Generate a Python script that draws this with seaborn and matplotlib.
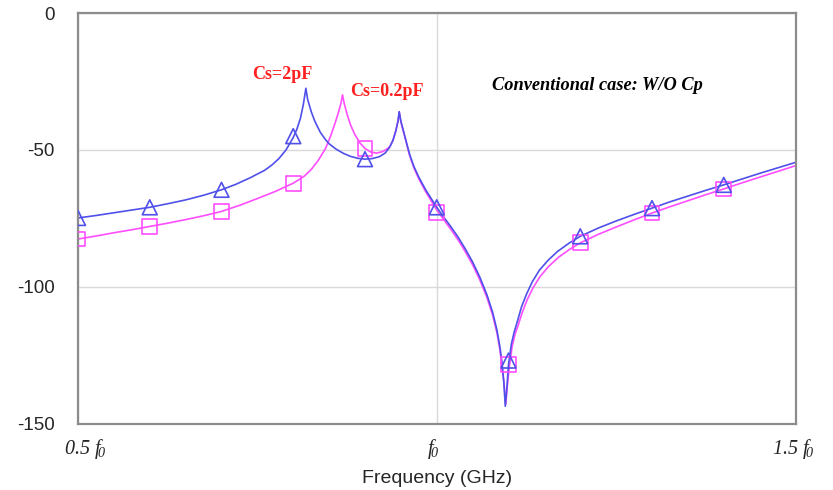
import matplotlib
matplotlib.use("Agg")
import matplotlib.pyplot as plt
import matplotlib.transforms as mtransforms
import seaborn as sns
import pandas as pd

# ---------------- data (frequency in units of f0, response in dB) ----------------
f_blue = [0.50, 0.525, 0.55, 0.575, 0.60, 0.625, 0.65, 0.675, 0.70, 0.72, 0.74, 0.76,
          0.77, 0.78, 0.79, 0.80, 0.805, 0.81, 0.814, 0.8176,
          0.82, 0.825, 0.83, 0.8375, 0.845, 0.85, 0.86, 0.87, 0.88, 0.89, 0.90, 0.91,
          0.92, 0.928, 0.934, 0.939, 0.943, 0.946, 0.9477,
          0.95, 0.953, 0.957, 0.962, 0.968, 0.975, 0.985, 1.00, 1.01, 1.02, 1.03, 1.04,
          1.05, 1.06, 1.07, 1.078, 1.084, 1.088, 1.091, 1.0935, 1.0955,
          1.098, 1.10, 1.104, 1.108, 1.112, 1.118, 1.125, 1.133, 1.143, 1.155, 1.168,
          1.185, 1.20, 1.225, 1.25, 1.275, 1.30, 1.325, 1.35, 1.375, 1.40, 1.425, 1.45,
          1.475, 1.50]
db_blue = [-74.9, -74.0, -73.0, -72.0, -71.0, -69.7, -68.3, -66.6, -64.6, -62.6, -60.2, -57.5,
           -55.6, -53.2, -50.0, -45.5, -42.5, -38.5, -33.5, -27.5,
           -31.5, -36.0, -39.5, -43.5, -46.3, -47.8, -49.8, -51.3, -52.4, -53.1, -53.4, -53.2,
           -52.5, -51.2, -49.2, -46.5, -43.0, -39.5, -36.0,
           -39.5, -42.5, -46.5, -51.5, -56.0, -60.0, -64.8, -71.0, -74.7, -78.2, -82.0, -86.3,
           -91.0, -96.5, -103.0, -109.5, -116.0, -122.0, -128.0, -135.0, -143.7,
           -136.0, -128.5, -121.0, -116.5, -113.0, -107.5, -102.8, -98.3, -94.0, -90.4, -87.2,
           -84.0, -81.6, -78.6, -76.0, -73.6, -71.3, -69.0, -66.9, -64.8, -62.8, -60.7, -58.6,
           -56.6, -54.6]

f_mag = [0.50, 0.525, 0.55, 0.575, 0.60, 0.625, 0.65, 0.675, 0.70, 0.725, 0.75, 0.775,
         0.80, 0.815, 0.825, 0.835, 0.845, 0.852, 0.858, 0.863, 0.8665, 0.8686,
         0.871, 0.875, 0.88, 0.886, 0.893, 0.90, 0.908, 0.916, 0.924, 0.93, 0.935, 0.939,
         0.943, 0.946, 0.9477, 0.95, 0.953, 0.957, 0.962, 0.968, 0.975, 0.985, 1.00,
         1.01, 1.02, 1.03, 1.04, 1.05, 1.06, 1.07, 1.078, 1.084, 1.088, 1.091, 1.094,
         1.0962, 1.0985, 1.101, 1.105, 1.109, 1.113, 1.119, 1.126, 1.134, 1.144, 1.156,
         1.17, 1.185, 1.20, 1.225, 1.25, 1.275, 1.30, 1.325, 1.35, 1.375, 1.40, 1.425,
         1.45, 1.475, 1.50]
db_mag = [-82.6, -81.5, -80.3, -79.2, -78.0, -76.8, -75.5, -74.1, -72.5, -70.3, -67.8, -65.2,
          -62.2, -59.7, -57.2, -53.8, -49.5, -45.0, -40.5, -36.3, -33.0, -29.9,
          -33.0, -37.0, -41.0, -44.5, -47.5, -49.5, -50.8, -51.2, -50.7, -49.8, -48.7, -46.5,
          -43.0, -39.5, -36.3, -39.8, -42.8, -46.8, -51.9, -56.5, -60.6, -65.5, -72.0,
          -75.6, -79.2, -83.0, -87.3, -92.0, -97.5, -104.0, -110.5, -117.0, -123.0, -129.0, -136.0,
          -143.0, -136.0, -129.5, -122.0, -117.5, -114.5, -109.5, -104.8, -100.5, -96.3, -92.6,
          -89.2, -86.4, -84.0, -80.9, -78.2, -75.6, -73.1, -70.8, -68.6, -66.4, -64.3, -62.1,
          -60.0, -57.9, -55.8]

f_mark = [0.5, 0.6, 0.7, 0.8, 0.9, 1.0, 1.1, 1.2, 1.3, 1.4]
db_mark_blue = [-74.9, -71.0, -64.6, -45.0, -53.4, -71.0, -127.0, -81.6, -71.3, -62.8]
db_mark_mag = [-82.6, -78.0, -72.5, -62.2, -49.6, -73.0, -128.5, -84.0, -73.1, -64.3]

series_names = ["Cs=2pF", "Cs=0.2pF"]
x_ticks = [0.5, 1.0, 1.5]
x_tick_labels = [r"$0.5\ f_{\!0}$", r"$f_{\!0}$", r"$1.5\ f_{\!0}$"]
y_ticks = [0, -50, -100, -150]
y_tick_labels = ["0", "-50", "-100", "-150"]

# ---------------- tables ----------------
curve_df = pd.concat([
    pd.DataFrame({"f": f_blue, "dB": db_blue, "series": series_names[0]}),
    pd.DataFrame({"f": f_mag, "dB": db_mag, "series": series_names[1]}),
], ignore_index=True)
mark_df = pd.concat([
    pd.DataFrame({"f": f_mark, "dB": db_mark_blue, "series": series_names[0]}),
    pd.DataFrame({"f": f_mark, "dB": db_mark_mag, "series": series_names[1]}),
], ignore_index=True)

blue = "#5050ea"
mag = "#ff4dff"
palette = {series_names[0]: blue, series_names[1]: mag}

sns.set_theme(style="white")
plt.rcParams["font.family"] = ["Liberation Sans", "DejaVu Sans"]
plt.rcParams["mathtext.fontset"] = "custom"
plt.rcParams["mathtext.it"] = "Liberation Serif:italic"
plt.rcParams["mathtext.rm"] = "Liberation Serif:italic"
plt.rcParams["mathtext.default"] = "it"

fig = plt.figure(figsize=(8.33, 4.9), dpi=100)
ax = fig.add_axes([78 / 833, 1 - 423.5 / 490, (795.5 - 78) / 833, (423.5 - 13) / 490])

sns.lineplot(data=curve_df, x="f", y="dB", hue="series", palette=palette,
             hue_order=[series_names[1], series_names[0]],
             sort=False, estimator=None, linewidth=1.2, legend=False, ax=ax)

for name, mk in [(series_names[1], "s"), (series_names[0], "^")]:
    sub = mark_df[mark_df["series"] == name]
    sns.scatterplot(data=sub, x="f", y="dB", marker=mk, s=115,
                    facecolor="none", edgecolor=palette[name], linewidth=1.2,
                    legend=False, ax=ax, zorder=3)

ax.set_xlim(0.5, 1.5)
ax.set_ylim(-150, 0)
ax.set_xticks(x_ticks)
ax.set_xticklabels(x_tick_labels, fontsize=14.5)
ax.set_yticks(y_ticks)
ax.set_yticklabels(y_tick_labels, fontsize=13.5)
ax.tick_params(axis="x", length=0, pad=10)
ax.tick_params(axis="y", length=0, pad=17)
ax.grid(True, color="#d9d9d9", linewidth=1.0)
ax.set_axisbelow(True)
for sp in ax.spines.values():
    sp.set_color("#8c8c8c")
    sp.set_linewidth(1.6)

# small horizontal nudges of the x tick labels (in points)
for lbl, dx in zip(ax.get_xticklabels(), [5.0, -2.5, -1.5]):
    lbl.set_transform(lbl.get_transform() +
                      mtransforms.ScaledTranslation(dx / 72, 0, fig.dpi_scale_trans))

ax.set_xlabel("Frequency (GHz)", fontsize=14, labelpad=6)
ax.set_ylabel("")

ax.text(0.785, -22.6, "Cs=2pF", color="#ff2020", fontsize=13, fontweight="bold",
        family="Liberation Serif", ha="center", va="center")
ax.text(0.93, -28.8, "Cs=0.2pF", color="#ff2020", fontsize=13, fontweight="bold",
        family="Liberation Serif", ha="center", va="center")
ax.text(1.077, -26.6, "Conventional case: W/O Cp", color="black", fontsize=13.25,
        fontweight="bold", style="italic", family="Liberation Serif", ha="left", va="center")

fig.savefig("out.png", dpi=100)
